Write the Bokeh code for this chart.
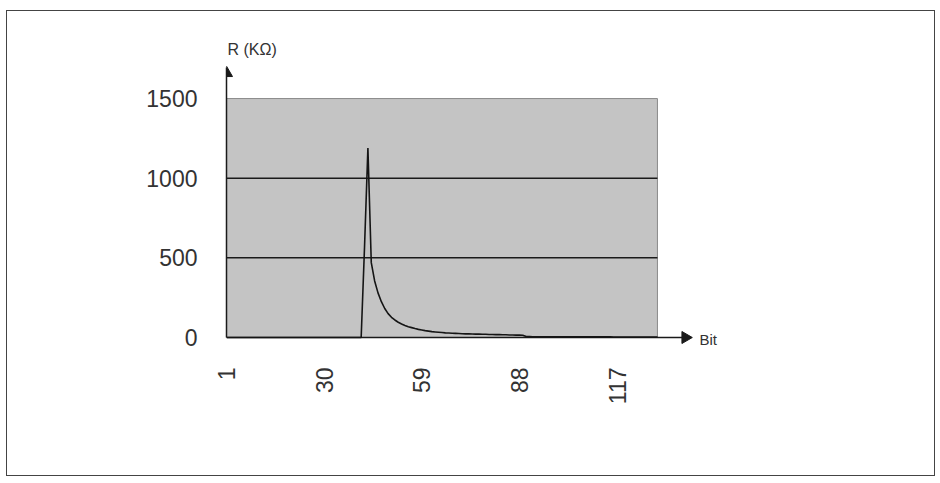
import math
from bokeh.plotting import figure
from bokeh.models import Range1d, FixedTicker
from bokeh.core.properties import value
from bokeh.embed import file_html
from bokeh.resources import INLINE

# ---- data ----
bits = list(range(1, 130))
resistance = (
    [0] * 41
    + [570, 1190, 470, 355, 280, 225, 182, 150, 127, 110,
       96, 85, 76, 68, 62, 56, 51, 47, 43, 40,
       37, 35, 33, 31, 29, 28, 27, 26, 25, 24,
       23, 23, 22, 21, 21, 20, 20, 19, 19, 18,
       18, 17, 17, 16, 16, 15, 15, 14, 6, 6]
    + [5] * 9
    + [4] * 15
    + [3] * 14
)
x_ticks = [1, 30, 59, 88, 117]
y_ticks = [0, 500, 1000, 1500]
grid_values = [500, 1000]
y_title = "R (KΩ)"
x_title = "Bit"

FONT = "Liberation Sans"
INK = "#1a1a1a"
TXT = "#333333"

x_first, x_last = bits[0], bits[-1]
y_min, y_max = y_ticks[0], y_ticks[-1]
x_arrow_end = 139.1
y_arrow_end = 1694

p = figure(width=929, height=466, output_backend="svg", toolbar_location=None,
           x_range=Range1d(1, 150.4), y_range=Range1d(-75.3, 1933.5),
           min_border_left=219, min_border_right=207,
           min_border_top=18, min_border_bottom=128)
p.styles = {"border": "1.5px solid #444", "margin-left": "6px", "margin-top": "10px"}
p.background_fill_color = "white"
p.border_fill_color = "white"
p.outline_line_color = None
p.grid.visible = False

# grey plot area
p.quad(left=x_first, right=x_last, bottom=y_min, top=y_max,
       fill_color="#c4c4c4", line_color="#8a8a8a", line_width=1)
# horizontal gridlines
p.segment(x0=[x_first] * len(grid_values), y0=grid_values,
          x1=[x_last] * len(grid_values), y1=grid_values,
          line_color=INK, line_width=1.5)

# axes
for ax in (p.xaxis[0], p.yaxis[0]):
    ax.major_tick_line_color = None
    ax.minor_tick_line_color = None
    ax.axis_line_color = INK
    ax.axis_line_width = 1.5
    ax.major_label_text_font = FONT
    ax.major_label_text_font_size = "23px"
    ax.major_label_text_color = TXT

p.yaxis[0].ticker = FixedTicker(ticks=y_ticks)
p.yaxis[0].bounds = (y_min, y_arrow_end)
p.yaxis[0].major_label_standoff = 23
p.xaxis[0].ticker = FixedTicker(ticks=x_ticks)
p.xaxis[0].axis_line_color = None
p.xaxis[0].major_label_orientation = math.pi / 2
p.xaxis[0].major_label_standoff = 12

# x axis baseline at R = 0, running out to the arrow
p.segment(x0=[x_first], y0=[y_min], x1=[x_arrow_end - 2], y1=[y_min],
          line_color=INK, line_width=1.5)

# series
p.line(bits, resistance, line_color="#151515", line_width=1.6)

# arrow heads at the axis ends
p.scatter([x_first], [y_arrow_end - 34], marker="triangle", size=12,
          fill_color=INK, line_color=INK)
p.scatter([x_arrow_end - 1.8], [y_min], marker="triangle", size=12, angle=-math.pi / 2,
          fill_color=INK, line_color=INK)

# axis titles
p.text([8.6], [1807], text=[y_title], text_font=value(FONT), text_font_size="16px",
       text_color=TXT, text_baseline="middle", text_align="center")
p.text([141.5], [-12.5], text=[x_title], text_font=value(FONT), text_font_size="15px",
       text_color=TXT, text_baseline="middle", text_align="left")

open("out.html", "w").write(file_html(p, INLINE))
